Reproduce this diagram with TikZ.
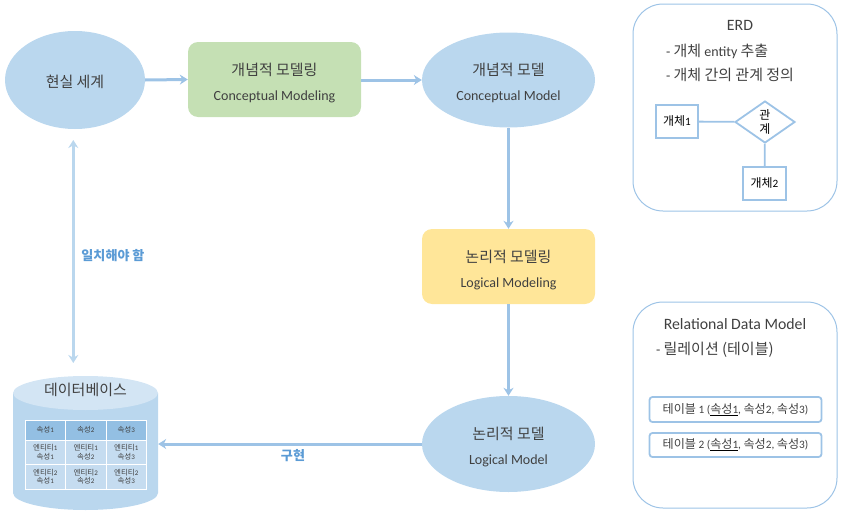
\documentclass[tikz,border=0pt]{standalone}
\usepackage{xcolor}
\usepackage{fontspec}
\setmainfont{Carlito}
\newfontfamily\korfont[Scale=1.07]{Noto Sans CJK KR}
\newcommand{\kor}[1]{{\korfont #1}}
\newcommand{\thickul}[1]{\setbox0=\hbox{#1}\rlap{\raisebox{-2.6pt}{\textcolor{black}{\rule{\wd0}{1pt}}}}\box0}
\usepackage{tikz}
\usetikzlibrary{arrows.meta}
\usetikzlibrary{shapes.geometric}
\definecolor{ovalblue}{HTML}{BAD7EE}
\definecolor{linkblue}{HTML}{9DC3E6}
\definecolor{labelblue}{HTML}{5B9BD5}
\definecolor{inkgray}{HTML}{404040}
\definecolor{stepgreen}{HTML}{C5E0B4}
\definecolor{stepyellow}{HTML}{FFE699}
\definecolor{dbtop}{HTML}{D3E5F4}
\definecolor{cellhead}{HTML}{93BFE3}
\definecolor{cellbody}{HTML}{C5DCF0}
\tikzstyle{ovalnode}=[shape=ellipse, fill=ovalblue, text=inkgray, minimum width=173pt, minimum height=95pt, inner sep=0pt, align=center, font=\fontsize{14}{16}\selectfont]
\tikzstyle{stepnode}=[shape=rectangle, rounded corners=10pt, text=inkgray, minimum width=173pt, minimum height=75pt, inner sep=0pt, align=center, font=\fontsize{14}{16}\selectfont]
\tikzstyle{panelnode}=[shape=rectangle, draw=linkblue, line width=1pt, rounded corners=30pt, minimum width=204pt, inner sep=0pt]
\tikzstyle{paneltext}=[text=inkgray, inner sep=0pt, font=\fontsize{14}{16}\selectfont]
\tikzstyle{erdnode}=[shape=rectangle, draw=linkblue, line width=1.8pt, fill=white, text=black, inner sep=0pt, align=center, font=\fontsize{11.2}{13.5}\selectfont]
\tikzstyle{tablenode}=[shape=rectangle, draw=linkblue, line width=1.8pt, rounded corners=3pt, minimum width=172pt, text=inkgray, inner sep=0pt, font=\fontsize{11.3}{13}\selectfont]
\tikzstyle{cellnode}=[shape=rectangle, draw=white, line width=1pt, text=inkgray, inner sep=0pt, align=center, minimum width=40.5pt, font=\fontsize{7}{8.5}\selectfont]
\tikzstyle{flowarrow}=[-{Stealth[length=8pt, width=10pt]}, line width=3pt, color=linkblue]
\tikzstyle{flowlabel}=[text=labelblue, inner sep=0pt, font=\fontsize{12.2}{14}\selectfont\bfseries]
\begin{document}
\begin{tikzpicture}[x=1pt, y=-1pt]
\useasboundingbox (0,0) rectangle (855,522);

\node [ovalnode, minimum width=140pt, minimum height=98pt] (real) at (75,80) {\rule{0pt}{16pt}\kor{현실 세계}};
\node [stepnode, fill=stepgreen] (cmodeling) at (274.5,79.5) {\rule{0pt}{20pt}\kor{개념적 모델링}\\[9pt]Conceptual Modeling};
\node [ovalnode] (cmodel) at (508.5,80) {\rule{0pt}{19pt}\kor{개념적 모델}\\[9pt]Conceptual Model};
\node [stepnode, fill=stepyellow] (lmodeling) at (508.5,266.5) {\rule{0pt}{20pt}\kor{논리적 모델링}\\[9pt]Logical Modeling};
\node [ovalnode, minimum height=96pt] (lmodel) at (508.5,444) {\rule{0pt}{18pt}\kor{논리적 모델}\\[9pt]Logical Model};

% database
\node [minimum width=145pt, minimum height=134pt, inner sep=0pt] (db) at (85.5,443) {};
\fill [ovalblue] (13,393) -- (13,493) arc (180:360:72.5pt and 17pt) -- (158,393) -- cycle;
\fill [dbtop] (85.5,393) ellipse (72.5pt and 17pt);
\node [text=inkgray, inner sep=0pt, font=\fontsize{14}{16}\selectfont] (dbtitle) at (85.5,390) {\kor{데이터베이스}};
\foreach \c/\x in {1/45.25, 2/85.75, 3/126.25} {
  \node [cellnode, minimum height=20pt, fill=cellhead] (head\c) at (\x,430) {\kor{속성}\c};
  \node [cellnode, minimum height=24pt, fill=cellbody] (rowa\c) at (\x,452) {\kor{엔티티}1\\\kor{속성}\c};
  \node [cellnode, minimum height=25pt, fill=cellbody] (rowb\c) at (\x,476.5) {\kor{엔티티}2\\\kor{속성}\c};
}

% ERD panel
\node [panelnode, minimum height=207pt] (erd) at (735,107.5) {};
\node [paneltext, font=\fontsize{15.8}{18}\selectfont] (erdtitle) at (740,25) {ERD};
\node [paneltext, anchor=west] (erdone) at (666,51) {- \kor{개체} entity \kor{추출}};
\node [paneltext, anchor=west] (erdtwo) at (666,75) {- \kor{개체 간의 관계 정의}};
\node [erdnode, minimum width=42pt, minimum height=33pt] (ent1) at (677,121.5) {\kor{개체}1};
\node [erdnode, shape=diamond, minimum width=60pt, minimum height=42pt] (rel) at (765,122) {\kor{관}\\\kor{계}};
\node [erdnode, minimum width=43pt, minimum height=33pt] (ent2) at (764.5,183.5) {\kor{개체}2};
\draw [line width=1.8pt, color=linkblue] (ent1) -- (rel);
\draw [line width=1.8pt, color=linkblue] (rel) -- (ent2);

% relational panel
\node [panelnode, minimum height=206pt] (rdm) at (735,405) {};
\node [paneltext, font=\fontsize{15.8}{18}\selectfont] (rdmtitle) at (735,324) {Relational Data Model};
\node [paneltext, anchor=west] (rdmone) at (656,350) {- \kor{릴레이션 (테이블)}};
\node [tablenode, minimum height=25pt] (tbl1) at (735.5,409.5) {\kor{테이블} 1 (\thickul{\kor{속성}1}, \kor{속성}2, \kor{속성}3)};
\node [tablenode, minimum height=24pt] (tbl2) at (735.5,445) {\kor{테이블} 2 (\thickul{\kor{속성}1}, \kor{속성}2, \kor{속성}3)};

% arrows
\coordinate (synctop) at (73.3,140);
\coordinate (syncbot) at (73.3,363);
\draw [flowarrow] (real.east) -- (cmodeling.west);
\draw [flowarrow] (cmodeling.east |- real.east) -- (cmodel.west |- real.east);
\draw [flowarrow, xshift=0.8pt] (cmodel) -- (lmodeling);
\draw [flowarrow, xshift=0.8pt] (lmodeling) -- (lmodel);
\draw [flowarrow] (lmodel.west) -- (db.east |- lmodel.west);
\draw [{Stealth[length=8pt, width=10pt]}-{Stealth[length=8pt, width=10pt]}, line width=3pt, color=ovalblue] (synctop) -- (syncbot);

\node [flowlabel] (synclabel) at (113,255.5) {\kor{일치해야 함}};
\node [flowlabel] (buildlabel) at (293,456) {\kor{구현}};
\end{tikzpicture}
\end{document}
